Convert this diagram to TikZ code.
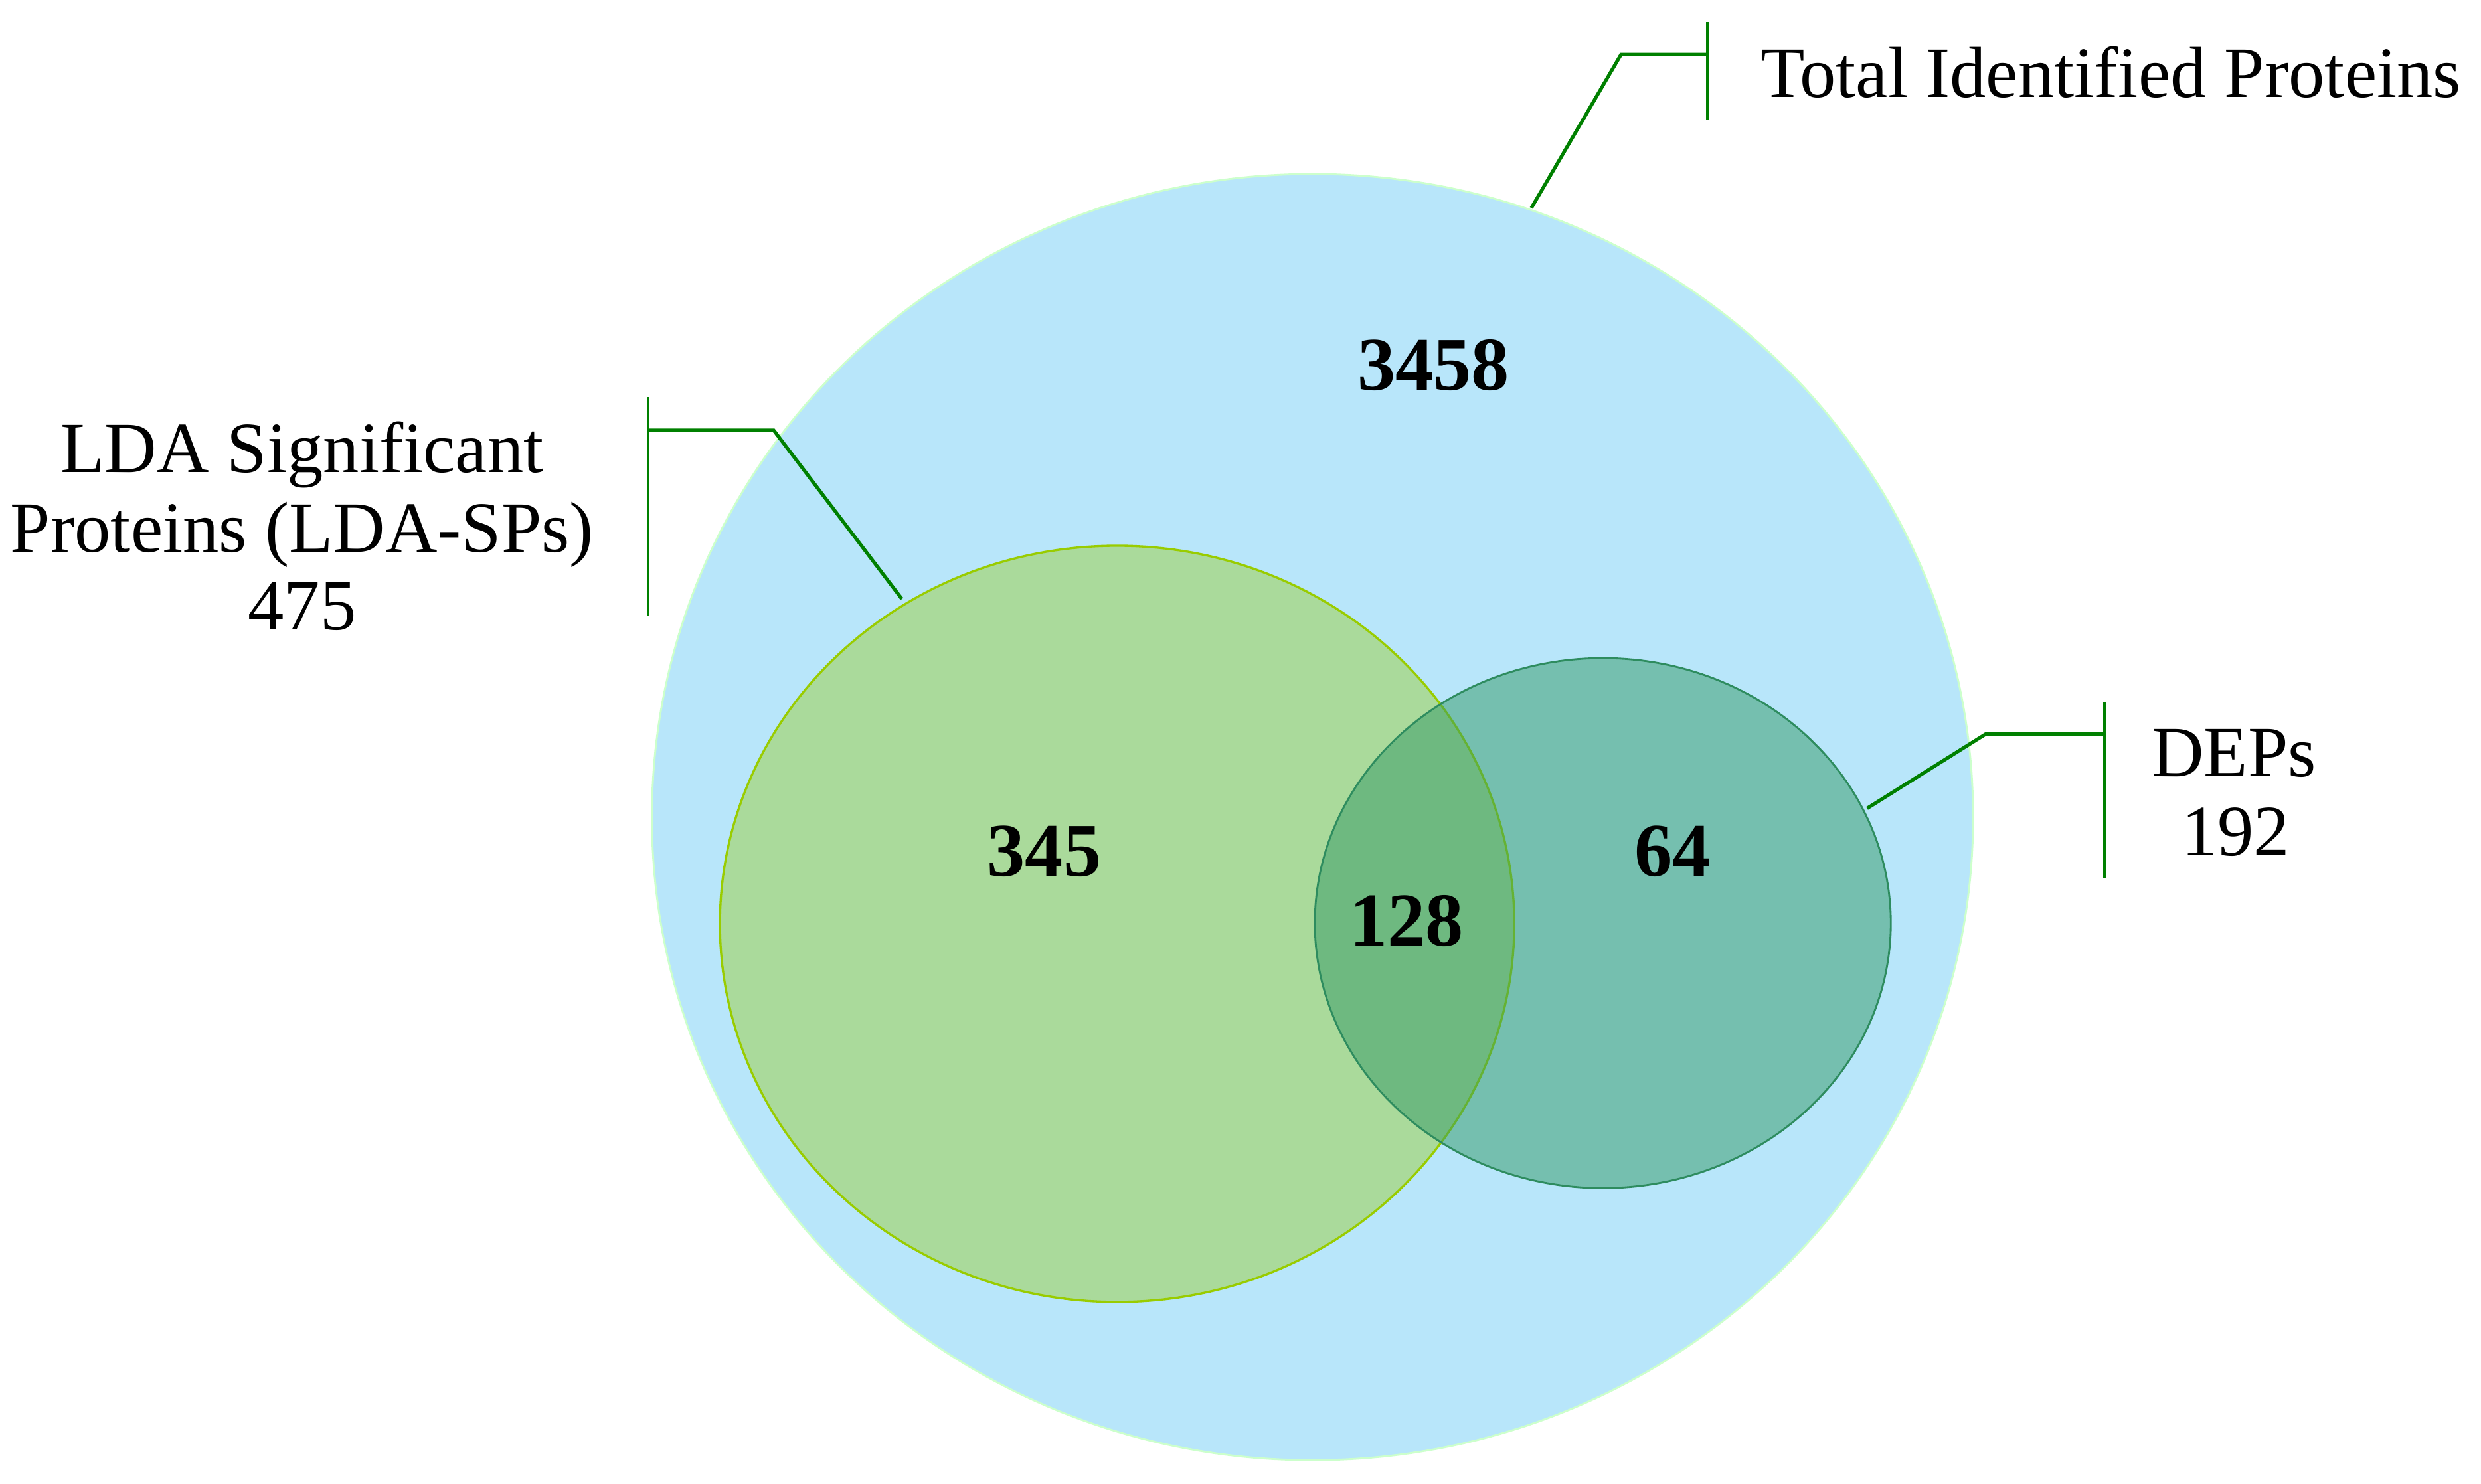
\documentclass[tikz,border=0pt]{standalone}
\usepackage{fontspec}
\setmainfont{Liberation Serif}
\definecolor{bigblue}{RGB}{184,230,250}
\definecolor{bigedge}{RGB}{204,255,204}
\definecolor{ldafill}{RGB}{170,218,155}
\definecolor{ldaedge}{RGB}{153,204,0}
\definecolor{depfill}{RGB}{51,153,102}
\definecolor{depedge}{RGB}{46,140,95}
\definecolor{callg}{RGB}{0,128,0}
\tikzset{
  lbl/.style={inner sep=0pt, anchor=base, font=\fontsize{11.4}{12.5}\selectfont},
  num/.style={inner sep=0pt, anchor=center, font=\fontsize{12}{14}\selectfont\bfseries},
  callout/.style={draw=callg, line width=0.55pt, line join=miter},
  bar/.style={draw=callg, line width=0.35pt}
}
\begin{document}
\begin{tikzpicture}[x=0.25pt,y=-0.25pt]
\useasboundingbox (0,0) rectangle (1568,938);
% sets
\filldraw[fill=bigblue, draw=bigedge, line width=0.3pt] (829.5,516.5) ellipse (417.5 and 406.5);
\filldraw[fill=ldafill, draw=ldaedge, line width=0.35pt] (706,584) ellipse (251 and 239);
\fill[fill=depfill, fill opacity=0.5] (1013,583.5) ellipse (182 and 167.5);
\draw[draw=depedge, line width=0.3pt] (1013,583.5) ellipse (182 and 167.5);
% numbers
\node[num] (n3458) at (906,231) {3458};
\node[num] (n345) at (660,538) {345};
\node[num] (n128) at (889,582) {128};
\node[num] (n64) at (1057,538) {64};
% total callout
\coordinate (tA) at (967.8,131.5);
\coordinate (tB) at (1024.5,34.5);
\coordinate (tC) at (1079,34.5);
\coordinate (tT) at (1079,14);
\coordinate (tD) at (1079,76);
\draw[callout] (tA) -- (tB) -- (tC);
\draw[bar] (tT) -- (tD);
\node[lbl, anchor=base west] (total) at (1112,61.7) {Total Identified Proteins};
% LDA callout
\coordinate (lA) at (570,378.6);
\coordinate (lB) at (489,272);
\coordinate (lC) at (409.6,272);
\coordinate (lT) at (409.6,251);
\coordinate (lD) at (409.6,389.5);
\draw[callout] (lA) -- (lB) -- (lC);
\draw[bar] (lT) -- (lD);
\node[lbl] (lda1) at (191,298.8) {LDA Significant};
\node[lbl] (lda2) at (191,349) {Proteins (LDA-SPs)};
\node[lbl] (lda3) at (191,398) {475};
% DEPs callout
\coordinate (dA) at (1180,511);
\coordinate (dB) at (1255,464);
\coordinate (dC) at (1330,464);
\coordinate (dT) at (1330,443.6);
\coordinate (dD) at (1330,554.8);
\draw[callout] (dA) -- (dB) -- (dC);
\draw[bar] (dT) -- (dD);
\node[lbl] (dep1) at (1412,491) {DEPs};
\node[lbl] (dep2) at (1413,540.7) {192};
\end{tikzpicture}
\end{document}
